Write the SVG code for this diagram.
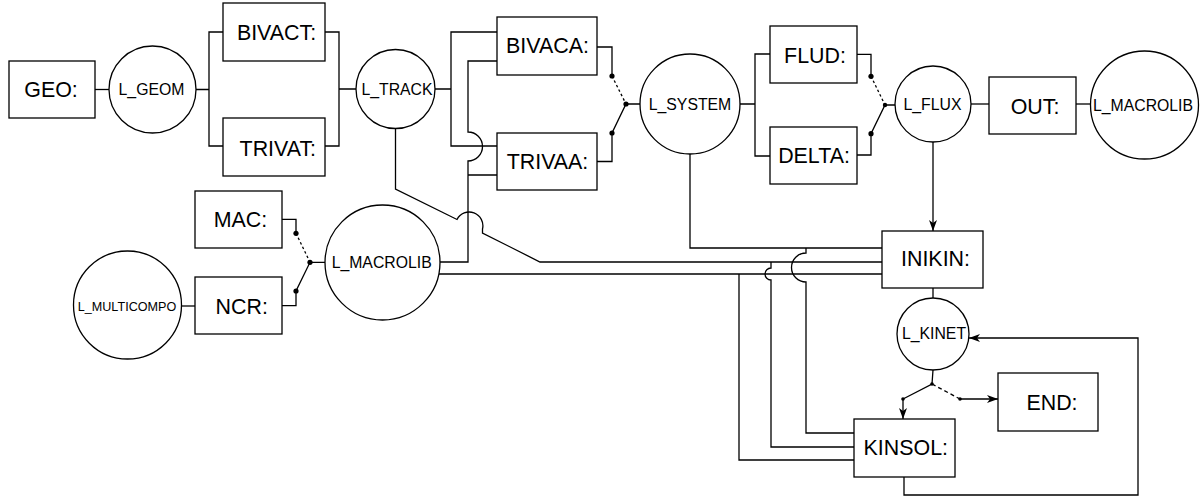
<svg xmlns="http://www.w3.org/2000/svg" width="1203" height="497" viewBox="0 0 1203 497">
  <style>
    .box{fill:#fff;stroke:#000;stroke-width:1.3}
    .lbl{font-family:"Liberation Sans",Arial,Helvetica,sans-serif;font-size:21.4px;text-anchor:middle;fill:#000}
    .sm{font-size:15.8px}
    .xs{font-size:12.6px}
    .wire{fill:none;stroke:#000;stroke-width:1.3}
    .dot{fill:#000}
    .dotted{stroke-dasharray:2.5 2.5}
    .dashed{stroke-dasharray:4 3}
  </style>
  <defs>
    <marker id="arr" markerWidth="12" markerHeight="10" refX="11" refY="5" orient="auto" markerUnits="userSpaceOnUse">
      <path d="M0,1 L11,5 L0,9 L3,5 z" fill="#000"/>
    </marker>
  </defs>
  <rect width="1203" height="497" fill="#fff"/>

  <g id="connectors">
    <!-- geometry chain -->
    <path class="wire" d="M95,89.5 L109,89.5"/>
    <path class="wire" d="M196,89.5 L209,89.5 M223,32 L209,32 L209,146 L223,146"/>
    <path class="wire" d="M325,32 L339,32 L339,146 L325,146 M339,89 L356,89"/>
    <!-- L_TRACK to assembly modules -->
    <path class="wire" d="M435,89 L451,89 M497,32 L451,32 L451,146 L497,146"/>
    <!-- L_MACROLIB to assembly modules -->
    <path class="wire" d="M440,262 L468,262 L468,161 A14.5,14.5 0 0 0 468,132 L468,61 L497,61 M468,175 L497,175"/>
    <!-- L_TRACK to INIKIN -->
    <path class="wire" d="M395.5,128.5 L395.5,189 L457,219.5 A13.7,13.7 0 0 1 482.5,229 L482.5,233 L540,262 L882,262"/>
    <!-- L_MACROLIB to INIKIN -->
    <path class="wire" d="M438.7,274 L882,274"/>
    <!-- L_SYSTEM to INIKIN -->
    <path class="wire" d="M690,154 L690,248 L882,248"/>
    <!-- assembly switch -->
    <path class="wire" d="M597,47 L612,47 L612,76"/>
    <path class="wire dotted" d="M612,76 L626,104"/>
    <path class="wire" d="M597,161.5 L612,161.5 L612,133 L626,104 L640,104"/>
    <circle class="dot" cx="612" cy="76" r="2.6"/>
    <circle class="dot" cx="612" cy="133" r="2.6"/>
    <circle class="dot" cx="626" cy="104" r="2.6"/>
    <!-- L_SYSTEM to solvers -->
    <path class="wire" d="M740,104 L755,104 M770,54 L755,54 L755,156 L770,156"/>
    <!-- solver switch -->
    <path class="wire" d="M857,54.3 L871,54.3 L871,76.3"/>
    <path class="wire dotted" d="M871,76.3 L885,105"/>
    <path class="wire" d="M857,155 L871,155 L871,133.7 L885,105 L895,105"/>
    <circle class="dot" cx="871" cy="76.3" r="2.6"/>
    <circle class="dot" cx="871" cy="133.7" r="2.6"/>
    <circle class="dot" cx="885" cy="105" r="2.2"/>
    <!-- flux output -->
    <path class="wire" d="M971,104 L989,104"/>
    <path class="wire" d="M1076,104 L1090.5,104"/>
    <path class="wire" d="M933,142 L933,231" marker-end="url(#arr)"/>
    <!-- cross-section switch -->
    <path class="wire" d="M282,219.3 L296,219.3 L296,233.3"/>
    <path class="wire dotted" d="M296,233.3 L310,262.3"/>
    <path class="wire" d="M282,305.7 L296,305.7 L296,291 L310,262.3 L325,262.3"/>
    <circle class="dot" cx="296" cy="233.3" r="2.6"/>
    <circle class="dot" cx="296" cy="291" r="2.6"/>
    <circle class="dot" cx="310" cy="262.3" r="2.6"/>
    <path class="wire" d="M181.5,306 L195,306"/>
    <!-- kinetics -->
    <path class="wire" d="M933,288 L933,298"/>
    <path class="wire" d="M933,370 L932,384 L903,399"/>
    <path class="wire" d="M903,399 L903,419" marker-end="url(#arr)"/>
    <path class="wire dashed" d="M932,384 L960,399"/>
    <path class="wire" d="M960,399 L998,399" marker-end="url(#arr)"/>
    <circle class="dot" cx="932" cy="384" r="1.8"/>
    <circle class="dot" cx="903" cy="399" r="1.8"/>
    <circle class="dot" cx="960" cy="399" r="1.8"/>
    <path class="wire" d="M904,477 L904,495 L1138,495 L1138,338 L969,338" marker-end="url(#arr)"/>
    <!-- inputs to KINSOL -->
    <path class="wire" d="M739,274 L739,460 L854,460"/>
    <path class="wire" d="M771,262 L771,268 A6,6 0 0 0 771,280 L771,447 L854,447"/>
    <path class="wire" d="M806,248 L806,253 A14.5,14.5 0 0 0 806,282 L806,433 L854,433"/>
  </g>

  <g id="geo"><rect class="box" x="9" y="61" width="86" height="57"/><text class="lbl" x="51" y="97">GEO:</text></g>
  <g id="l_geom"><circle class="box" cx="152.5" cy="89.5" r="43.5"/><text class="lbl sm" x="151.5" y="95">L_GEOM</text></g>
  <g id="bivact"><rect class="box" x="223" y="3" width="102" height="58"/><text class="lbl" x="276.5" y="40">BIVACT:</text></g>
  <g id="trivat"><rect class="box" x="223" y="118" width="102" height="58"/><text class="lbl" x="277.8" y="156">TRIVAT:</text></g>
  <g id="l_track"><circle class="box" cx="395.5" cy="89" r="39.5"/><text class="lbl sm" x="397" y="95">L_TRACK</text></g>
  <g id="bivaca"><rect class="box" x="497" y="17" width="100" height="58"/><text class="lbl" x="547.5" y="53.3">BIVACA:</text></g>
  <g id="trivaa"><rect class="box" x="497" y="133" width="100" height="57"/><text class="lbl" x="547.5" y="169.3">TRIVAA:</text></g>
  <g id="l_system"><circle class="box" cx="690" cy="104" r="50"/><text class="lbl sm" x="690" y="110">L_SYSTEM</text></g>
  <g id="flud"><rect class="box" x="770" y="26" width="87" height="57"/><text class="lbl" x="815" y="62.5">FLUD:</text></g>
  <g id="delta"><rect class="box" x="770" y="127" width="87" height="57"/><text class="lbl" x="814" y="163.3">DELTA:</text></g>
  <g id="l_flux"><circle class="box" cx="933" cy="104" r="38"/><text class="lbl sm" x="932.5" y="110">L_FLUX</text></g>
  <g id="out"><rect class="box" x="989" y="77" width="87" height="57"/><text class="lbl" x="1035" y="113.5">OUT:</text></g>
  <g id="l_macrolib_out"><circle class="box" cx="1144.5" cy="105" r="54"/><text class="lbl sm" x="1143" y="111">L_MACROLIB</text></g>
  <g id="mac"><rect class="box" x="195" y="191" width="87" height="57"/><text class="lbl" x="240.5" y="226.7">MAC:</text></g>
  <g id="ncr"><rect class="box" x="195" y="277" width="87" height="57"/><text class="lbl" x="241.7" y="313.5">NCR:</text></g>
  <g id="l_multicompo"><circle class="box" cx="127.5" cy="305" r="54"/><text class="lbl xs" x="127" y="310.5">L_MULTICOMPO</text></g>
  <g id="l_macrolib"><circle class="box" cx="382.5" cy="262.5" r="57.5"/><text class="lbl sm" x="381.7" y="268.3">L_MACROLIB</text></g>
  <g id="inikin"><rect class="box" x="882" y="231" width="101" height="57"/><text class="lbl" x="935.5" y="265.7">INIKIN:</text></g>
  <g id="l_kinet"><circle class="box" cx="933" cy="334" r="36"/><text class="lbl sm" x="934" y="338.5">L_KINET</text></g>
  <g id="kinsol"><rect class="box" x="854" y="419" width="101" height="58"/><text class="lbl" x="905.8" y="455">KINSOL:</text></g>
  <g id="end"><rect class="box" x="998" y="373" width="100" height="58"/><text class="lbl" x="1052" y="410">END:</text></g>
</svg>
